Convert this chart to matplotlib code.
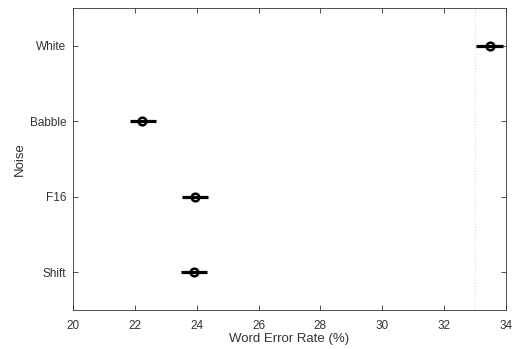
import matplotlib
matplotlib.use("Agg")
import matplotlib.pyplot as plt

plt.rcParams['font.family'] = ['Liberation Sans', 'DejaVu Sans']

noise = ["Shift", "F16", "Babble", "White"]
wer = [23.91, 23.94, 22.23, 33.48]
ci_low = [23.49, 23.52, 21.84, 33.03]
ci_high = [24.33, 24.36, 22.68, 33.9]
xticks = [20, 22, 24, 26, 28, 30, 32, 34]

fig = plt.figure(figsize=(5.18, 3.49), dpi=100)
ax = fig.add_axes([73/518, 1-310/349, 433/518, 302/349])

ypos = list(range(1, len(noise)+1))
for y, m, lo, hi in zip(ypos, wer, ci_low, ci_high):
    ax.plot([lo, hi], [y, y], color='black', lw=2.3, solid_capstyle='butt')
    ax.plot([m], [y], marker='o', ms=5.5, mfc='none', mec='black', mew=1.8)

ax.axvline(33, color='#dddddd', lw=0.8, ls=':')

ax.set_xlim(20, 34)
ax.set_ylim(0.5, 4.5)
ax.set_xticks(xticks)
ax.set_xticklabels([str(t) for t in xticks])
ax.set_yticks(ypos)
ax.set_yticklabels(noise)
ax.tick_params(direction='in', top=True, right=True, labelsize=8.5, length=3.5, width=0.6,
               colors='#333333', labelcolor='#333333')
ax.tick_params(axis='x', pad=7)
ax.tick_params(axis='y', pad=5)
for s in ax.spines.values():
    s.set_linewidth(0.6)
    s.set_color('#333333')
ax.set_xlabel("Word Error Rate (%)", fontsize=9.5, color='#333333', labelpad=1)
ax.set_ylabel("Noise", fontsize=9.5, color='#333333', labelpad=3)

fig.savefig("out.png", dpi=100)
